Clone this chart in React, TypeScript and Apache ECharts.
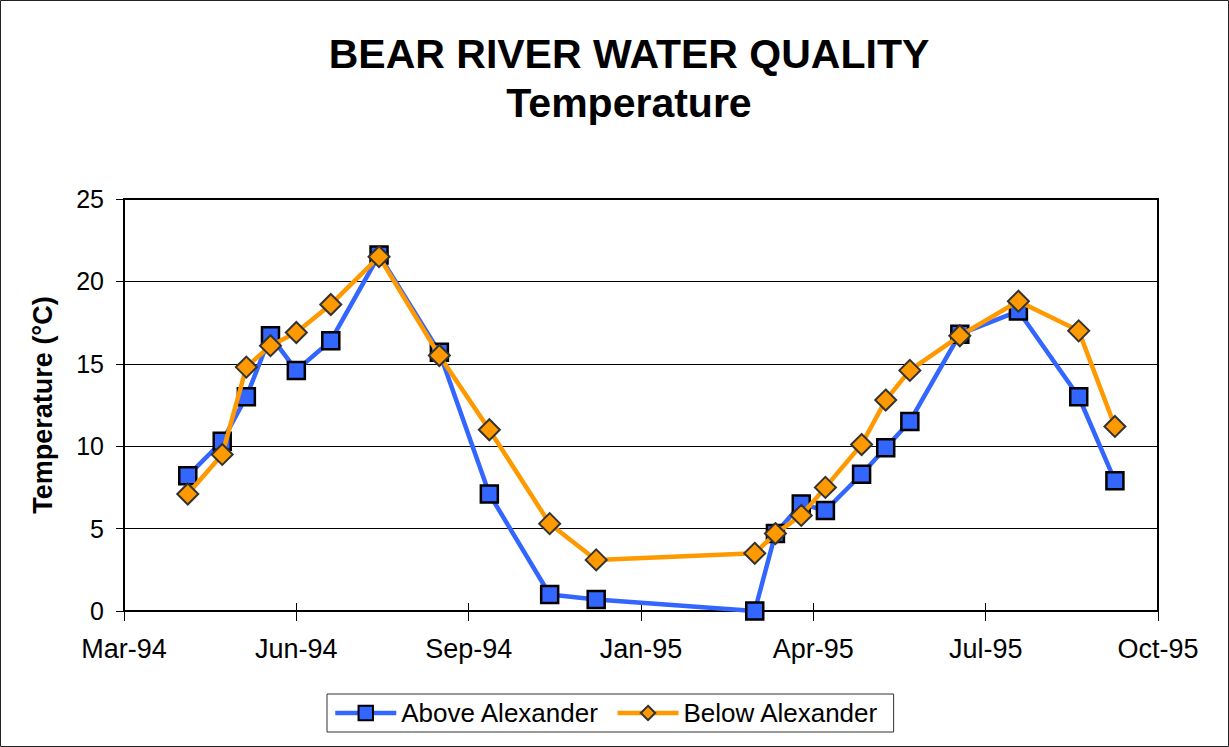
import React, { useEffect, useRef } from "react";
import * as echarts from "echarts";

// Sampling dates
const sampleDates: string[] = [
  "1994-04-13", "1994-05-03", "1994-05-17", "1994-05-31", "1994-06-15", "1994-07-05",
  "1994-08-02", "1994-09-06", "1994-10-05", "1994-11-09", "1994-12-06", "1995-03-08",
  "1995-03-20", "1995-04-04", "1995-04-18", "1995-05-09", "1995-05-23", "1995-06-06",
  "1995-07-05", "1995-08-08", "1995-09-12", "1995-10-03",
];

// Temperature (°C)
const aboveAlexander: number[] = [
  8.2, 10.3, 13.0, 16.7, 14.6, 16.4, 21.6, 15.7, 7.1, 1.0, 0.7, 0.0,
  4.7, 6.5, 6.1, 8.3, 9.9, 11.5, 16.8, 18.2, 13.0, 7.9,
];
const belowAlexander: number[] = [
  7.1, 9.5, 14.8, 16.1, 16.9, 18.6, 21.5, 15.5, 11.0, 5.3, 3.1, 3.5,
  4.7, 5.8, 7.5, 10.1, 12.8, 14.6, 16.7, 18.8, 17.0, 11.2,
];

const seriesNames: string[] = ["Above Alexander", "Below Alexander"];
const titleLines: string[] = ["BEAR RIVER WATER QUALITY", "Temperature"];
const yAxisTitle = "Temperature (°C)";

// X axis (spreadsheet date serials: 34400 = 7 Mar 1994, step 100 days)
const xMin = 34400;
const xMax = 35000;
const xStep = 100;
const yMin = 0;
const yMax = 25;
const yStep = 5;

const MONTHS = ["Jan", "Feb", "Mar", "Apr", "May", "Jun", "Jul", "Aug", "Sep", "Oct", "Nov", "Dec"];
const EPOCH = Date.UTC(1899, 11, 30);
const DAY = 86400000;

function toSerial(iso: string): number {
  const [y, m, d] = iso.split("-").map(Number);
  return Math.round((Date.UTC(y, m - 1, d) - EPOCH) / DAY);
}
function serialLabel(v: number): string {
  const dt = new Date(EPOCH + Math.round(v) * DAY);
  const yy = String(dt.getUTCFullYear() % 100).padStart(2, "0");
  return `${MONTHS[dt.getUTCMonth()]}-${yy}`;
}

const FONT = '"Liberation Sans", Arial, Helvetica, sans-serif';

export default function App() {
  const ref = useRef<HTMLDivElement>(null);

  useEffect(() => {
    if (!ref.current) return;
    const chart = echarts.init(ref.current, undefined, { renderer: "svg" });
    const xs = sampleDates.map(toSerial);
    const aboveData = xs.map((x, i) => [x, aboveAlexander[i]]);
    const belowData = xs.map((x, i) => [x, belowAlexander[i]]);

    chart.setOption({
      animation: false,
      backgroundColor: "#ffffff",
      textStyle: { fontFamily: FONT },
      graphic: [
        {
          type: "rect",
          shape: { x: 0.5, y: 0.5, width: 1228, height: 746 },
          style: { fill: "none", stroke: "#222", lineWidth: 1 },
          z: 100,
        },
        {
          type: "text",
          x: 629,
          y: 54,
          style: {
            text: titleLines[0],
            font: `bold 41px ${FONT}`,
            fill: "#000",
            textAlign: "center",
            textVerticalAlign: "middle",
          },
        },
        {
          type: "text",
          x: 629,
          y: 103,
          style: {
            text: titleLines[1],
            font: `bold 41px ${FONT}`,
            fill: "#000",
            textAlign: "center",
            textVerticalAlign: "middle",
          },
        },
      ],
      grid: {
        left: 124,
        right: 71,
        top: 199,
        bottom: 136,
        show: true,
        borderColor: "#000",
        borderWidth: 2,
        backgroundColor: "transparent",
      },
      legend: {
        left: 327,
        top: 694,
        padding: [6, 15, 6, 6],
        itemWidth: 61,
        itemHeight: 18,
        itemGap: 16,
        borderColor: "#333",
        borderWidth: 1,
        backgroundColor: "#fff",
        lineStyle: { width: 4.5 },
        textStyle: { fontSize: 26, color: "#000", fontFamily: FONT },
        data: seriesNames,
      },
      xAxis: [
        {
          type: "value",
          min: xMin,
          max: xMax,
          interval: xStep,
          axisLine: { show: true, onZero: false, lineStyle: { color: "#000", width: 2 } },
          axisTick: { show: true, inside: false, length: 10, lineStyle: { color: "#000", width: 1 } },
          axisLabel: {
            formatter: (v: number) => serialLabel(v),
            fontSize: 27,
            color: "#000",
            margin: 24,
            fontFamily: FONT,
          },
          splitLine: { show: false },
        },
        {
          type: "value",
          min: xMin,
          max: xMax,
          interval: xStep,
          position: "bottom",
          axisLine: { show: false },
          axisTick: { show: true, inside: true, length: 8, lineStyle: { color: "#000", width: 1 } },
          axisLabel: { show: false },
          splitLine: { show: false },
        },
      ],
      yAxis: {
        type: "value",
        min: yMin,
        max: yMax,
        interval: yStep,
        name: yAxisTitle,
        nameLocation: "middle",
        nameGap: 68,
        nameRotate: 90,
        nameTextStyle: { fontSize: 27, fontWeight: "bold", color: "#000", fontFamily: FONT },
        axisLine: { show: true, lineStyle: { color: "#000", width: 2 } },
        axisTick: { show: true, inside: false, length: 8, lineStyle: { color: "#000", width: 1 } },
        axisLabel: { fontSize: 25, color: "#000", margin: 20, fontFamily: FONT },
        splitLine: { show: true, lineStyle: { color: "#000", width: 1 } },
      },
      series: [
        {
          name: seriesNames[0],
          type: "line",
          xAxisIndex: 0,
          data: aboveData,
          symbol: "rect",
          symbolSize: 17,
          lineStyle: { color: "#3366FF", width: 4.5 },
          itemStyle: { color: "#3366FF", borderColor: "#000", borderWidth: 2.5 },
          emphasis: { disabled: true },
          z: 3,
        },
        {
          name: seriesNames[1],
          type: "line",
          xAxisIndex: 0,
          data: belowData,
          symbol: "diamond",
          symbolSize: 21,
          lineStyle: { color: "#FF9900", width: 4.5 },
          itemStyle: { color: "#FF9900", borderColor: "#333", borderWidth: 2 },
          emphasis: { disabled: true },
          z: 4,
        },
      ],
    });

    return () => chart.dispose();
  }, []);

  return (
    <div
      ref={ref}
      style={{ position: "fixed", left: 0, top: 0, width: 1229, height: 747, background: "#fff" }}
    />
  );
}
